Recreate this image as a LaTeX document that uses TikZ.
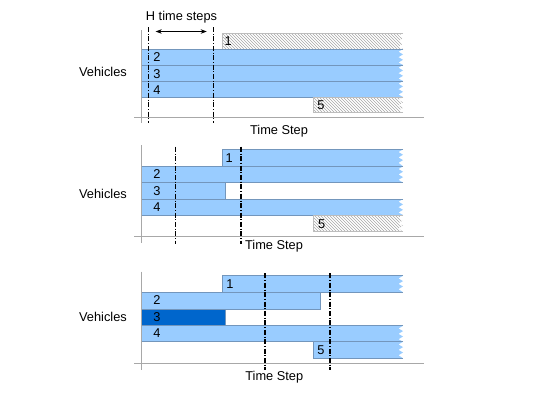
\documentclass[tikz,border=0pt]{standalone}
\usepackage{fontspec}
\setmainfont{Liberation Sans}
\usetikzlibrary{patterns,arrows.meta}
\definecolor{barblue}{HTML}{99CCFF}
\definecolor{barline}{HTML}{7396BC}
\definecolor{darkbar}{HTML}{0066CC}
\definecolor{axisgray}{HTML}{A8A8A8}
\definecolor{hatchgray}{HTML}{A6A6A6}
\definecolor{hatchline}{HTML}{BDBDBD}
% #1 fill style, #2 outline style, #3 x start, #4 y top, #5 y bottom
\newcommand{\tornbar}[5]{%
  \path[#1] (#3,#4) -- (403,#4) -- (398.5,#4+2.7) -- (403,#4+5.4) -- (398.5,#4+8.1)
    -- (403,#4+10.8) -- (398.5,#4+13.5) -- (403,#5) -- (#3,#5) -- cycle;
  \path[#2] (403,#4) -- (#3,#4) -- (#3,#5) -- (403,#5);}
\newcommand{\flatbar}[5]{%
  \path[#1] (#2,#3) rectangle (#4,#5);}
\begin{document}
\begin{tikzpicture}[x=1pt,y=-1pt,
  every node/.style={font=\fontsize{12.8}{14}\selectfont, inner sep=0pt},
  bluefill/.style={fill=barblue},
  blueedge/.style={draw=barline, line width=0.6pt},
  bluebar/.style={fill=barblue, draw=barline, line width=0.6pt},
  darkbarst/.style={fill=darkbar, draw=barline, line width=0.6pt},
  hatchfill/.style={pattern=north west lines, pattern color=hatchgray},
  hatchedge/.style={draw=hatchline, line width=0.6pt},
  axisline/.style={draw=axisgray, line width=0.9pt},
  horizon/.style={draw=black, line width=1.1pt, dash pattern=on 5pt off 1.8pt on 0.8pt off 1.8pt},
  lbl/.style={anchor=center}]
\useasboundingbox (0,0) rectangle (550,408);

% ---------------- Panel 1 ----------------
\tornbar{hatchfill}{hatchedge}{222.7}{33}{49}
\tornbar{bluefill}{blueedge}{141.7}{49}{65}
\tornbar{bluefill}{blueedge}{141.7}{65}{81}
\tornbar{bluefill}{blueedge}{141.7}{81}{97}
\tornbar{hatchfill}{hatchedge}{313}{97}{112.7}
\coordinate (ya1) at (141.7,30);
\coordinate (yb1) at (141.7,123);
\coordinate (xa1) at (134,117.3);
\coordinate (xb1) at (424,117.3);
\draw[axisline] (ya1) -- (yb1);
\draw[axisline] (xa1) -- (xb1);
\coordinate (h1a) at (148.3,27);
\coordinate (h1b) at (148.3,123);
\coordinate (h2a) at (213.3,27);
\coordinate (h2b) at (213.3,123);
\draw[horizon] (h1a) -- (h1b);
\draw[horizon] (h2a) -- (h2b);
\coordinate (arl) at (155.7,31.5);
\coordinate (arr) at (206.7,31.5);
\draw[{Stealth[length=6pt,width=4.5pt]}-{Stealth[length=6pt,width=4.5pt]}, line width=0.5pt] (arl) -- (arr);
\node[lbl] (hts) at (181.5,17) {H time steps};
\node[lbl] (veh1) at (103,72) {Vehicles};
\node[lbl] (ts1) at (279,131.5) {Time Step};
\node[lbl] (p1n1) at (228.3,41) {1};
\node[lbl] (p1n2) at (157,57.5) {2};
\node[lbl] (p1n3) at (157,74) {3};
\node[lbl] (p1n4) at (157,90) {4};
\node[lbl] (p1n5) at (321,105.5) {5};

% ---------------- Panel 2 ----------------
\tornbar{bluefill}{blueedge}{222.7}{149.3}{166.3}
\tornbar{bluefill}{blueedge}{141.7}{166.3}{182.7}
\flatbar{bluebar}{141.7}{182.7}{225}{199}
\tornbar{bluefill}{blueedge}{141.7}{199}{215}
\tornbar{hatchfill}{hatchedge}{313}{215}{231.7}
\coordinate (ya2) at (141.7,145);
\coordinate (yb2) at (141.7,243);
\coordinate (xa2) at (134,236.5);
\coordinate (xb2) at (424,236.5);
\draw[axisline] (ya2) -- (yb2);
\draw[axisline] (xa2) -- (xb2);
\coordinate (h3a) at (175.7,146.7);
\coordinate (h3b) at (175.7,244);
\coordinate (h4a) at (241,146.7);
\coordinate (h4b) at (241,244);
\draw[horizon] (h3a) -- (h3b);
\draw[horizon] (h4a) -- (h4b);
\node[lbl] (veh2) at (103,194) {Vehicles};
\node[lbl] (ts2) at (274,246.5) {Time Step};
\node[lbl] (p2n1) at (229.3,158.5) {1};
\node[lbl] (p2n2) at (157,174.5) {2};
\node[lbl] (p2n3) at (157,191) {3};
\node[lbl] (p2n4) at (157,207) {4};
\node[lbl] (p2n5) at (321.7,224) {5};

% ---------------- Panel 3 ----------------
\tornbar{bluefill}{blueedge}{222.7}{275.7}{292.3}
\flatbar{bluebar}{141.7}{292.3}{320.7}{309.3}
\flatbar{darkbarst}{141.7}{309.3}{225}{325.7}
\tornbar{bluefill}{blueedge}{141.7}{325.7}{341.7}
\tornbar{bluefill}{blueedge}{313}{341.7}{358.3}
\coordinate (ya3) at (141.7,271.7);
\coordinate (yb3) at (141.7,370);
\coordinate (xa3) at (134,363.2);
\coordinate (xb3) at (424,363.2);
\draw[axisline] (ya3) -- (yb3);
\draw[axisline] (xa3) -- (xb3);
\coordinate (h5a) at (265,273.3);
\coordinate (h5b) at (265,370);
\coordinate (h6a) at (330,273.3);
\coordinate (h6b) at (330,370);
\draw[horizon] (h5a) -- (h5b);
\draw[horizon] (h6a) -- (h6b);
\node[lbl] (veh3) at (103,316.5) {Vehicles};
\node[lbl] (ts3) at (274.3,377.5) {Time Step};
\node[lbl] (p3n1) at (230,284.5) {1};
\node[lbl] (p3n2) at (157,300.5) {2};
\node[lbl] (p3n3) at (157,317.5) {3};
\node[lbl] (p3n4) at (157,333.5) {4};
\node[lbl] (p3n5) at (321,350.5) {5};
\end{tikzpicture}
\end{document}
